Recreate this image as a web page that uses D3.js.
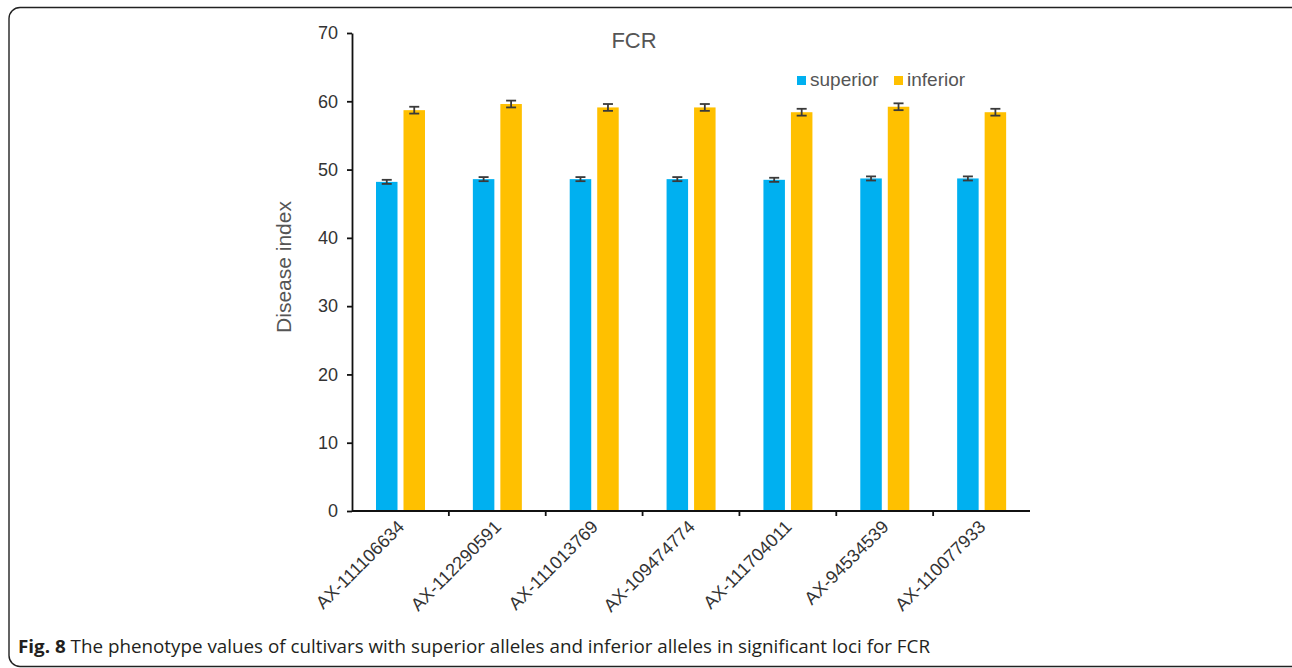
<!DOCTYPE html>
<html>
<head>
<meta charset="utf-8">
<script src="https://cdn.jsdelivr.net/npm/d3@7/dist/d3.min.js"></script>
<style>
  html, body { margin: 0; padding: 0; background: #fff; }
  svg { display: block; }
</style>
</head>
<body>
<svg id="chart" width="1292" height="668"></svg>
<script>
// Loci and phenotype values (disease index) for each allele group
const loci = ["AX-111106634", "AX-112290591", "AX-111013769", "AX-109474774",
              "AX-111704011", "AX-94534539", "AX-110077933"];
const seriesNames = ["superior", "inferior"];
const superiorValues = [48.2, 48.6, 48.6, 48.6, 48.5, 48.7, 48.7];
const inferiorValues = [58.7, 59.6, 59.1, 59.1, 58.4, 59.2, 58.4];
const superiorErrors = [0.3, 0.3, 0.3, 0.3, 0.3, 0.3, 0.3];
const inferiorErrors = [0.5, 0.5, 0.5, 0.5, 0.5, 0.5, 0.5];
const yTicks = [0, 10, 20, 30, 40, 50, 60, 70];
const colors = ["#00B0F0", "#FFC000"];

const rows = loci.map((locus, i) => ({
  locus,
  values: [
    { key: "superior", value: superiorValues[i], err: superiorErrors[i] },
    { key: "inferior", value: inferiorValues[i], err: inferiorErrors[i] }
  ]
}));

const svg = d3.select("#chart");
const font = "'Liberation Sans', Arial, sans-serif";

// Figure frame
svg.append("rect")
  .attr("x", 9).attr("y", 7.5)
  .attr("width", 1300).attr("height", 659)
  .attr("rx", 11).attr("ry", 11)
  .attr("fill", "none").attr("stroke", "#222").attr("stroke-width", 1.4);

const plotLeft = 352, plotRight = 1030, plotTop = 33, plotBottom = 511;

const y = d3.scaleLinear().domain([0, 70]).range([plotBottom, plotTop]);
const x0 = d3.scaleBand().domain(loci).range([plotLeft, plotRight]).paddingInner(0).paddingOuter(0);
const x1 = d3.scaleBand().domain(seriesNames).range([24, 73]).paddingInner(0.218).paddingOuter(0);
const color = d3.scaleOrdinal().domain(seriesNames).range(colors);

// Bars
const groups = svg.append("g").selectAll("g")
  .data(rows).join("g")
  .attr("transform", d => `translate(${x0(d.locus)},0)`);

groups.selectAll("rect")
  .data(d => d.values).join("rect")
  .attr("x", d => x1(d.key))
  .attr("y", d => y(d.value))
  .attr("width", x1.bandwidth())
  .attr("height", d => y(0) - y(d.value))
  .attr("fill", d => color(d.key));

// Error bars
const capHalf = 5;
const eb = groups.selectAll("g.err")
  .data(d => d.values).join("g").attr("class", "err")
  .attr("stroke", "#3a3a3a").attr("stroke-width", 1.8);
eb.append("line")
  .attr("x1", d => x1(d.key) + x1.bandwidth() / 2)
  .attr("x2", d => x1(d.key) + x1.bandwidth() / 2)
  .attr("y1", d => y(d.value + d.err))
  .attr("y2", d => y(d.value - d.err));
eb.append("line")
  .attr("x1", d => x1(d.key) + x1.bandwidth() / 2 - capHalf)
  .attr("x2", d => x1(d.key) + x1.bandwidth() / 2 + capHalf)
  .attr("y1", d => y(d.value + d.err))
  .attr("y2", d => y(d.value + d.err));
eb.append("line")
  .attr("x1", d => x1(d.key) + x1.bandwidth() / 2 - capHalf)
  .attr("x2", d => x1(d.key) + x1.bandwidth() / 2 + capHalf)
  .attr("y1", d => y(d.value - d.err))
  .attr("y2", d => y(d.value - d.err));

// Y axis
const yAxis = svg.append("g")
  .attr("transform", `translate(${plotLeft},0)`)
  .call(d3.axisLeft(y).tickValues(yTicks).tickSize(5).tickPadding(9).tickSizeOuter(0));
yAxis.select(".domain").attr("stroke", "#111").attr("stroke-width", 1.8);
yAxis.selectAll(".tick line").attr("stroke", "#111").attr("stroke-width", 1.8);
yAxis.selectAll(".tick text")
  .attr("font-family", font).attr("font-size", 18).attr("fill", "#333");

// X axis with ticks at category boundaries
const xAxis = svg.append("g").attr("transform", `translate(0,${plotBottom})`);
xAxis.append("line")
  .attr("x1", plotLeft).attr("x2", plotRight)
  .attr("stroke", "#111").attr("stroke-width", 1.8);
xAxis.selectAll("line.bound")
  .data(loci.slice(1)).join("line").attr("class", "bound")
  .attr("x1", d => x0(d)).attr("x2", d => x0(d))
  .attr("y1", 0).attr("y2", 5)
  .attr("stroke", "#111").attr("stroke-width", 1.8);
xAxis.selectAll("text")
  .data(loci).join("text")
  .attr("transform", d => `translate(${x0(d) + x0.bandwidth() / 2 + 5},${17}) rotate(-45)`)
  .attr("text-anchor", "end")
  .attr("font-family", font).attr("font-size", 18).attr("fill", "#333")
  .text(d => d);

// Y axis title
svg.append("text")
  .attr("transform", `translate(291,267) rotate(-90)`)
  .attr("text-anchor", "middle")
  .attr("font-family", font).attr("font-size", 21).attr("fill", "#555")
  .text("Disease index");

// Chart title
svg.append("text")
  .attr("x", 634).attr("y", 48)
  .attr("text-anchor", "middle")
  .attr("font-family", font).attr("font-size", 22).attr("fill", "#555")
  .text("FCR");

// Legend
const legend = svg.append("g");
const legendX = [797, 894];
seriesNames.forEach((name, i) => {
  legend.append("rect")
    .attr("x", legendX[i]).attr("y", 76)
    .attr("width", 9).attr("height", 9)
    .attr("fill", color(name));
  legend.append("text")
    .attr("x", legendX[i] + 13).attr("y", 85.5)
    .attr("font-family", font).attr("font-size", 19).attr("fill", "#555")
    .text(name);
});

// Caption
const caption = svg.append("text")
  .attr("x", 18).attr("y", 653)
  .attr("font-family", "'Open Sans', 'Noto Sans', sans-serif")
  .attr("font-size", 18).attr("fill", "#231f20")
  .attr("textLength", 912).attr("lengthAdjust", "spacingAndGlyphs");
caption.append("tspan").attr("font-weight", "bold").text("Fig. 8");
caption.append("tspan")
  .text(" The phenotype values of cultivars with superior alleles and inferior alleles in significant loci for FCR");
</script>
</body>
</html>
